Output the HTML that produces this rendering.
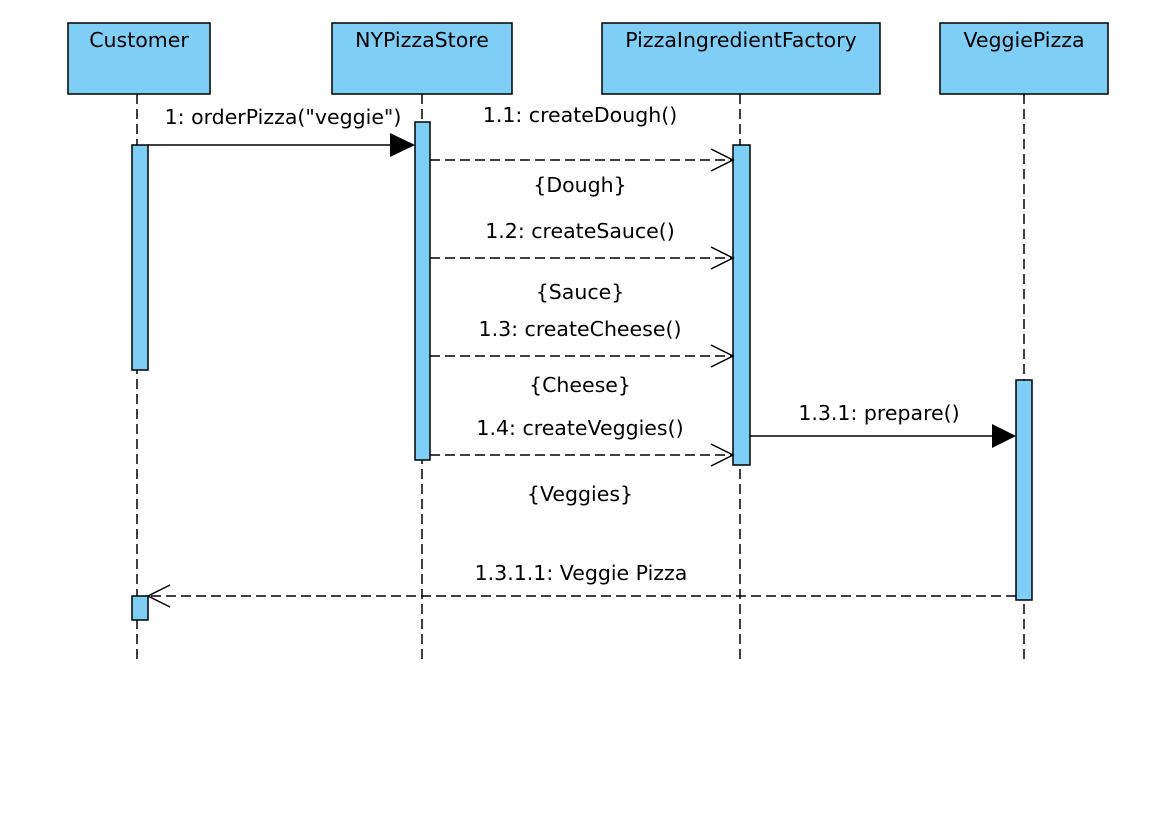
<!DOCTYPE html>
<html><head><style>
body{margin:0;background:#fff;}
svg text{font-family:"DejaVu Sans","Liberation Sans",sans-serif;font-size:20.5px;fill:#000;}
</style></head><body>
<svg width="1166" height="824" xmlns="http://www.w3.org/2000/svg">
<rect width="1166" height="824" fill="#fff"/>
<g fill="#7ecef6" stroke="#000" stroke-width="1.5">
<rect x="68" y="23" width="142" height="71"/>
<rect x="332" y="23" width="180" height="71"/>
<rect x="602" y="23" width="278" height="71"/>
<rect x="940" y="23" width="168" height="71"/>
</g>
<g text-anchor="middle">
<text x="139" y="47">Customer</text>
<text x="422" y="47">NYPizzaStore</text>
<text x="741" y="47">PizzaIngredientFactory</text>
<text x="1024" y="47">VeggiePizza</text>
</g>
<g stroke="#000" stroke-width="1.5" stroke-dasharray="10,5" fill="none">
<line x1="137" y1="94" x2="137" y2="660"/>
<line x1="422" y1="94" x2="422" y2="660"/>
<line x1="740" y1="94" x2="740" y2="660"/>
<line x1="1024" y1="94" x2="1024" y2="660"/>
</g>
<rect x="155" y="100" width="260" height="28" fill="#fff"/>
<g fill="#7ecef6" stroke="#000" stroke-width="1.5">
<rect x="132" y="145" width="16" height="225"/>
<rect x="132" y="596" width="16" height="24"/>
<rect x="415" y="122" width="15" height="338"/>
<rect x="733" y="145" width="17" height="320"/>
<rect x="1016" y="380" width="16" height="220"/>
</g>
<g stroke="#000" stroke-width="1.5" fill="none">
<line x1="148" y1="145" x2="392" y2="145"/>
<line x1="750" y1="436" x2="994" y2="436"/>
<g stroke-dasharray="10,5">
<line x1="430" y1="160" x2="733" y2="160"/>
<line x1="430" y1="258" x2="733" y2="258"/>
<line x1="430" y1="356" x2="733" y2="356"/>
<line x1="430" y1="455" x2="733" y2="455"/>
<line x1="1016" y1="596" x2="148" y2="596"/>
</g>
<polyline points="711,149 733,160 711,171"/>
<polyline points="711,247 733,258 711,269"/>
<polyline points="711,345 733,356 711,367"/>
<polyline points="711,444 733,455 711,466"/>
<polyline points="170,585 148,596 170,607"/>
</g>
<polygon points="390,133 415,145 390,157" fill="#000"/>
<polygon points="992,424 1016,436 992,448" fill="#000"/>
<g text-anchor="middle">
<text x="283" y="124">1: orderPizza("veggie")</text>
<text x="580" y="122">1.1: createDough()</text>
<text x="580" y="192">{Dough}</text>
<text x="580" y="238">1.2: createSauce()</text>
<text x="580" y="299">{Sauce}</text>
<text x="580" y="336">1.3: createCheese()</text>
<text x="580" y="392">{Cheese}</text>
<text x="580" y="435">1.4: createVeggies()</text>
<text x="580" y="501">{Veggies}</text>
<text x="879" y="420">1.3.1: prepare()</text>
<text x="581" y="580">1.3.1.1: Veggie Pizza</text>
</g>
</svg>
</body></html>
